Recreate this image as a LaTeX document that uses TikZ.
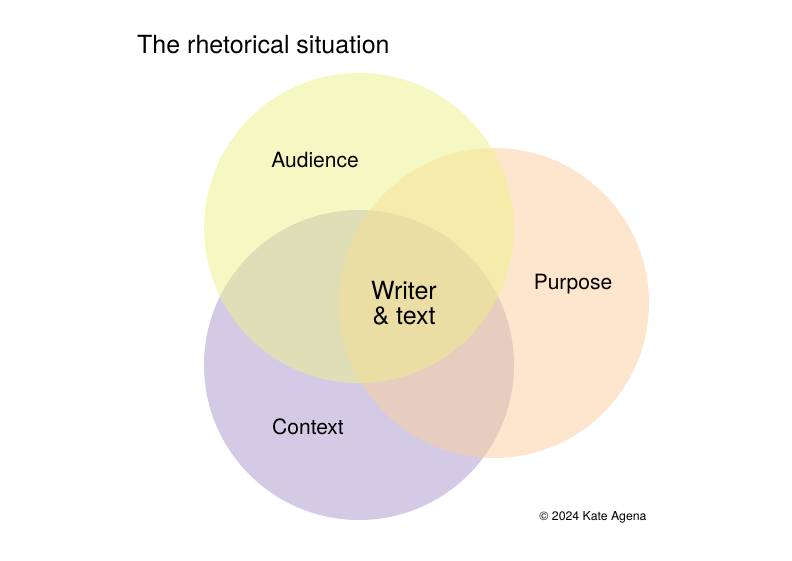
\documentclass[tikz,border=0pt]{standalone}
\usepackage{fontspec}
\setmainfont{TeX Gyre Heros}
\usetikzlibrary{positioning}
\definecolor{audiencecol}{HTML}{EEF28A}
\definecolor{purposecol}{HTML}{FBCE9C}
\definecolor{contextcol}{HTML}{A897CB}
\tikzset{venn/.style={circle,minimum size=310pt,inner sep=0pt,fill opacity=0.5},
         lbl/.style={font=\fontsize{21}{25}\selectfont}}
\begin{document}
\begin{tikzpicture}[x=1pt,y=-1pt]
        \useasboundingbox (0,0) rectangle (792,560);
        \node[venn,fill=contextcol]  (context)  at (359,365) {};
        \node[venn,fill=purposecol]  (purpose)  at (494,303) {};
        \node[venn,fill=audiencecol] (audience) at (359,228) {};
        \node[lbl] (audlbl) at (315,160) {Audience};
        \node[lbl] (purlbl) at (573,284) {Purpose};
        \node[lbl] (conlbl) at (308,427) {Context};
        \node[font=\fontsize{25}{25}\selectfont,align=center] (writer) at (404,303) {Writer\\\& text};
        \node[font=\fontsize{25}{30}\selectfont,anchor=west,inner sep=0pt] (title) at (137,45) {The rhetorical situation};
        \node[font=\fontsize{12.3}{14}\selectfont] (copy) at (593,517) {© 2024 Kate Agena};
\end{tikzpicture}
\end{document}
